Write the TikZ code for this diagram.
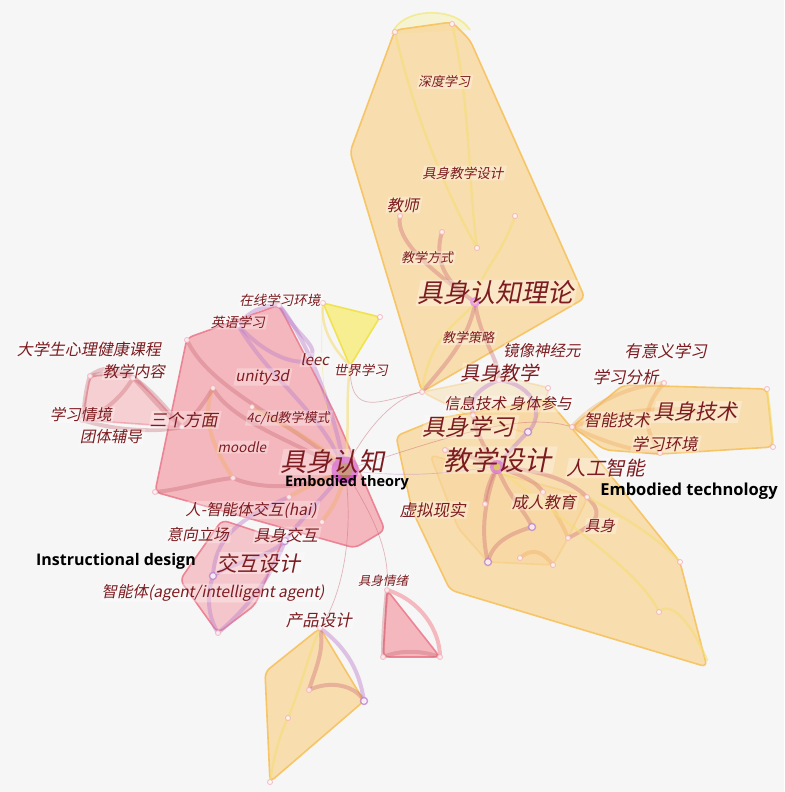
\documentclass[tikz,border=0pt]{standalone}
\usepackage{fontspec}
\newfontfamily\cjk{Noto Sans CJK SC}
\newfontfamily\eng{Open Sans}
\newcommand\fsz[1]{\fontsize{#1}{#1}\selectfont}
\definecolor{bg}{RGB}{246,246,246}
\definecolor{labred}{RGB}{125,28,32}
\definecolor{ofill}{RGB}{250,212,148}
\definecolor{oline}{RGB}{246,194,92}
\definecolor{pfill}{RGB}{244,160,168}
\definecolor{pline}{RGB}{236,124,142}
\definecolor{yfill}{RGB}{247,236,110}
\definecolor{yline}{RGB}{240,226,70}
\definecolor{ered}{RGB}{200,100,112}
\definecolor{epur}{RGB}{190,130,205}
\definecolor{eorg}{RGB}{240,175,100}
\definecolor{eyel}{RGB}{245,222,120}
\definecolor{mag}{RGB}{205,60,200}
\definecolor{core}{RGB}{175,115,60}
\tikzset{
  ocl/.style={fill=ofill, fill opacity=0.72, draw=oline, draw opacity=0.9, line width=1.6pt, rounded corners=6pt, line join=round},
  pcl/.style={fill=pfill, fill opacity=0.72, draw=pline, draw opacity=0.9, line width=1.6pt, rounded corners=6pt, line join=round},
  ycl/.style={fill=yfill, fill opacity=0.75, draw=yline, draw opacity=0.9, line width=1.6pt, rounded corners=4pt, line join=round},
  er/.style={draw=ered, line width=4pt, draw opacity=0.35, line cap=round},
  ep/.style={draw=epur, line width=4pt, draw opacity=0.45, line cap=round},
  eo/.style={draw=eorg, line width=4pt, draw opacity=0.4, line cap=round},
  ey/.style={draw=eyel, line width=2.5pt, draw opacity=0.6, line cap=round},
  thin/.style={draw=ered, line width=0.7pt, draw opacity=0.45},
  nd/.style={circle, draw=pline!60, fill=white, fill opacity=0.8, draw opacity=0.8, inner sep=0pt, minimum size=5pt, line width=0.9pt},
  ndp/.style={nd, draw=epur, minimum size=7pt, line width=1.4pt},
  lbl/.style={text=labred, inner sep=1pt, fill=white, fill opacity=0.3, text opacity=1, xslant=0.2},
  cn/.style={text=black, inner sep=0pt, font=\eng\bfseries\fsz{16}}
}
\begin{document}
\begin{tikzpicture}[x=1pt,y=-1pt]
\useasboundingbox (0,0) rectangle (784,792);
\fill[bg] (0,0) rectangle (784,792);

% ---- coordinates ----
\coordinate (t1) at (395,32);  \coordinate (t2) at (452,24);
\coordinate (t3) at (515,216); \coordinate (t4) at (442,232);
\coordinate (t5) at (477,248); \coordinate (t6) at (475,302);
\coordinate (t7) at (422,392); \coordinate (t8) at (400,216);
\coordinate (km) at (345,470);
\coordinate (k1) at (187,340); \coordinate (k2) at (238,325);
\coordinate (k3) at (279,305); \coordinate (k4) at (213,388);
\coordinate (k5) at (252,407); \coordinate (k7) at (233,478);
\coordinate (k8) at (155,492); \coordinate (k9) at (289,497);
\coordinate (k10) at (322,522); \coordinate (k11) at (285,541);
\coordinate (k12) at (213,576); \coordinate (k13) at (218,633);
\coordinate (k14) at (310,360);
\coordinate (s1) at (90,376);  \coordinate (s2) at (133,378);
\coordinate (s3) at (82,420);  \coordinate (s4) at (182,427);
\coordinate (y1) at (323,303); \coordinate (y2) at (380,317);
\coordinate (y3) at (350,366);
\coordinate (bm) at (497,467); \coordinate (b1) at (528,432);
\coordinate (b2) at (499,380); \coordinate (b3) at (473,415);
\coordinate (b4) at (543,492); \coordinate (b5) at (587,497);
\coordinate (b6) at (485,504); \coordinate (b7) at (532,527);
\coordinate (b8) at (488,562); \coordinate (b9) at (520,558);
\coordinate (b10) at (553,565); \coordinate (b11) at (568,538);
\coordinate (b12) at (659,612); \coordinate (b13) at (680,562);
\coordinate (b14) at (548,388); \coordinate (b15) at (445,450);
\coordinate (r1) at (572,427); \coordinate (r2) at (664,383);
\coordinate (r3) at (660,453); \coordinate (r4) at (767,389);
\coordinate (r5) at (773,447); \coordinate (r6) at (700,412);
\coordinate (p1) at (320,628); \coordinate (p2) at (309,690);
\coordinate (p3) at (364,701); \coordinate (p4) at (288,718);
\coordinate (p5) at (270,782);
\coordinate (e1) at (387,590); \coordinate (e2) at (383,657);
\coordinate (e3) at (440,657);

% ---- cluster hulls ----
\draw[ycl, fill opacity=0.25, draw opacity=0.5] (392,34) .. controls (400,8) and (455,5) .. (470,30);
\path[ocl] (395,30) -- (452,22) -- (470,40) -- (585,298) -- (422,392) -- (350,152) -- cycle;
\path[ocl] (396,436) -- (440,418) -- (548,400) -- (592,452) -- (680,562) -- (707,667) -- (450,590) -- (412,510) -- cycle;
\path[ocl, fill opacity=0.35, draw opacity=0.35] (430,455) -- (588,497) -- (568,538) -- (553,565) -- (488,562) -- (458,528) -- cycle;
\path[ocl, fill opacity=0.35, draw opacity=0.35] (422,392) -- (500,376) -- (550,388) -- (530,434) -- (473,418) -- cycle;
\path[ocl] (572,427) -- (623,385) -- (767,389) -- (773,447) -- (660,454) -- (605,450) -- cycle;
\path[ocl] (320,628) -- (364,701) -- (270,782) -- (265,672) -- cycle;
\path[pcl] (187,338) -- (279,305) -- (333,410) -- (385,530) -- (355,548) -- (155,492) -- cycle;
\path[pcl, fill opacity=0.45, draw opacity=0.5] (90,376) -- (133,374) -- (182,427) -- (82,420) -- cycle;
\path[pcl, fill opacity=0.55] (222,520) -- (283,540) -- (255,605) -- (218,633) -- (180,580) -- cycle;
\path[pcl] (387,590) -- (440,657) -- (383,657) -- cycle;
\path[ycl] (323,303) -- (380,317) -- (350,366) -- cycle;

% ---- links ----
% top cluster
\draw[ey] (t2) .. controls (470,100) and (468,180) .. (t5);
\draw[ey] (t1) .. controls (415,120) and (450,200) .. (t5);
\draw[ey] (t3) .. controls (500,260) and (480,270) .. (t6);
\draw[er] (t6) .. controls (440,280) and (435,255) .. (t4);
\draw[er] (t6) .. controls (430,270) and (395,240) .. (t8);
\draw[er] (t6) .. controls (470,340) and (440,370) .. (t7);
\draw[er] (t6) .. controls (480,340) and (500,360) .. (b2);
\draw[ey] (t7) .. controls (430,330) and (465,320) .. (t6);
% pink cluster
\draw[er] (km) .. controls (290,440) and (230,420) .. (k4);
\draw[er] (km) .. controls (290,420) and (210,390) .. (k1);
\draw[eo] (km) .. controls (320,440) and (270,420) .. (k5);
\draw[eo] (k4) .. controls (200,420) and (215,450) .. (k7);
\draw[er] (km) .. controls (310,490) and (260,490) .. (k7);
\draw[er] (k7) .. controls (210,480) and (180,490) .. (k8);
\draw[ep] (km) .. controls (330,390) and (300,330) .. (k3);
\draw[ep] (k2) .. controls (270,380) and (320,410) .. (km);
\draw[ep] (k2) .. controls (250,310) and (265,305) .. (k3);
\draw[ep] (k2) .. controls (270,360) and (300,365) .. (k14);
\draw[ep] (k3) .. controls (300,340) and (320,345) .. (k14);
\draw[er] (k4) .. controls (200,410) and (190,420) .. (s4);
\draw[er] (s1) .. controls (120,350) and (160,400) .. (s4);
\draw[er] (s2) .. controls (120,400) and (100,415) .. (s3);
\draw[er] (s1) .. controls (85,390) and (85,405) .. (s3);
\draw[er] (s1) .. controls (105,372) and (120,372) .. (s2);
\draw[er] (s3) .. controls (120,432) and (160,432) .. (s4);
\draw[er] (s2) .. controls (150,395) and (160,410) .. (s4);
\draw[eo] (km) .. controls (320,480) and (300,490) .. (k9);
\draw[eo] (km) .. controls (340,500) and (330,510) .. (k10);
\draw[ep] (k12) .. controls (235,560) and (265,560) .. (k11);
\draw[ep] (k11) .. controls (300,520) and (330,490) .. (km);
\draw[ep] (k12) .. controls (205,600) and (210,620) .. (k13);
\draw[ep] (k13) .. controls (245,610) and (270,580) .. (k11);
\draw[ep] (k12) .. controls (215,540) and (235,520) .. (k9);
% yellow triangle
\draw[ey] (y3) .. controls (345,410) and (350,440) .. (km);
\draw[ey] (y1) .. controls (320,330) and (335,350) .. (y3);
% lower right
\draw[er] (bm) .. controls (510,500) and (525,510) .. (b7);
\draw[er] (b7) .. controls (505,535) and (492,545) .. (b8);
\draw[er] (bm) .. controls (485,500) and (480,530) .. (b8);
\draw[er] (bm) .. controls (520,475) and (535,480) .. (b4);
\draw[er] (bm) .. controls (540,470) and (570,480) .. (b5);
\draw[ep] (bm) .. controls (510,450) and (520,440) .. (b1);
\draw[ep] (b2) .. controls (535,385) and (545,415) .. (b1);
\draw[ep] (b2) .. controls (475,390) and (470,400) .. (b3);
\draw[er] (bm) .. controls (485,450) and (475,430) .. (b3);
\draw[er] (bm) .. controls (490,480) and (486,490) .. (b6);
\draw[er] (bm) .. controls (470,455) and (455,452) .. (b15);
\draw[eo] (b4) .. controls (560,520) and (565,530) .. (b11);
\draw[eo] (b9) .. controls (535,545) and (545,555) .. (b10);
\draw[er] (b5) .. controls (600,510) and (605,520) .. (b11);
\draw[ey] (bm) .. controls (560,520) and (640,570) .. (b12);
\draw[ey] (b12) .. controls (670,600) and (690,620) .. (707,660);
\draw[ey] (b5) .. controls (630,520) and (660,540) .. (b13);
% right cluster
\draw[eo] (r1) .. controls (600,395) and (640,385) .. (r2);
\draw[eo] (r1) .. controls (610,445) and (640,452) .. (r3);
\draw[eo] (r2) .. controls (640,410) and (645,430) .. (r3);
\draw[eo] (r1) .. controls (620,410) and (670,405) .. (r6);
\draw[ey] (r4) .. controls (770,410) and (772,430) .. (r5);
% bottom cluster
\draw[er] (p1) .. controls (325,650) and (315,670) .. (p2);
\draw[er] (p2) .. controls (330,680) and (355,685) .. (p3);
\draw[ep] (p1) .. controls (350,650) and (360,675) .. (p3);
\draw[ey] (p5) .. controls (275,750) and (280,735) .. (p4);
\draw[ey] (p4) .. controls (300,690) and (310,650) .. (p1);
% emotion triangle
\draw[er, draw=pfill, draw opacity=0.7] (e1) .. controls (420,600) and (440,630) .. (e3);
\draw[er] (e2) .. controls (400,650) and (420,650) .. (e3);
\draw[er] (e1) .. controls (385,610) and (383,630) .. (e2);
% long thin links
\draw[thin] (km) .. controls (375,520) and (390,550) .. (e1);
\draw[thin] (km) .. controls (355,540) and (340,600) .. (p1);
\draw[thin] (km) .. controls (370,420) and (400,395) .. (t7);
\draw[thin] (km) .. controls (440,440) and (520,410) .. (r1);
\draw[thin] (t7) .. controls (380,400) and (350,420) .. (y3);
\draw[thin, draw=epur] (km) .. controls (420,480) and (460,470) .. (bm);
\draw[thin, draw=eyel] (km) .. controls (320,420) and (320,340) .. (y1);

% ---- small nodes ----
\foreach \c in {t1,t2,t3,t4,t5,t7,t8,k1,k2,k3,k4,k5,k7,k8,k9,k10,k14,s1,s2,s3,s4,y1,y2,y3,b2,b3,b4,b5,b6,b9,b10,b11,b12,b13,b14,b15,r1,r2,r3,r4,r5,r6,p1,p2,p4,p5,e1,e2,e3,k13}
  \node[nd] (n\c) at (\c) {};
\foreach \c in {b1,b7,b8,k11,k12,p3}
  \node[ndp] (n\c) at (\c) {};
% main nodes
\node[circle, fill=mag, fill opacity=0.8, minimum size=27pt, inner sep=0pt] (nkm) at (km) {};
\node[circle, fill=core, fill opacity=0.85, minimum size=15pt, inner sep=0pt] (nkmc) at (km) {};
\node[circle, fill=mag, fill opacity=0.75, minimum size=14pt, inner sep=0pt] (nbm) at (bm) {};
\node[circle, fill=core!60!yellow, minimum size=7pt, inner sep=0pt] (nbmc) at (bm) {};
\node[circle, fill=mag!70, minimum size=10pt, inner sep=0pt] (nt6) at (t6) {};
\node[circle, fill=pfill, minimum size=5pt, inner sep=0pt] (nt6c) at (t6) {};

% ---- labels ----
\node[lbl, font=\cjk\fsz{13}] (l1) at (445,82) {深度学习};
\node[lbl, font=\cjk\fsz{13.5}] (l2) at (464,173) {具身教学设计};
\node[lbl, font=\cjk\fsz{16}] (l3) at (404,205) {教师};
\node[lbl, font=\cjk\fsz{13}] (l4) at (428,258) {教学方式};
\node[lbl, font=\cjk\fsz{26}] (l5) at (497,293) {具身认知理论};
\node[lbl, font=\cjk\fsz{13}] (l6) at (469,338) {教学策略};
\node[lbl, font=\cjk\fsz{15.5}] (l7) at (543,351) {镜像神经元};
\node[lbl, font=\cjk\fsz{19.5}] (l8) at (501,373) {具身教学};
\node[lbl, font=\cjk\fsz{15.5}] (l9) at (509,404) {信息技术 身体参与};
\node[lbl, font=\cjk\fsz{23}] (l10) at (470,427) {具身学习};
\node[lbl, font=\cjk\fsz{27}] (l11) at (500,460) {教学设计};
\node[lbl, font=\cjk\fsz{19.5}] (l12) at (607,468) {人工智能};
\node[lbl, font=\cjk\fsz{16}] (l13) at (545,502) {成人教育};
\node[lbl, font=\cjk\fsz{15}] (l14) at (601,526) {具身};
\node[lbl, font=\cjk\fsz{16.5}] (l15) at (434,510) {虚拟现实};
\node[lbl, font=\cjk\fsz{16.5}] (l16) at (667,351) {有意义学习};
\node[lbl, font=\cjk\fsz{16.5}] (l17) at (627,377) {学习分析};
\node[lbl, font=\cjk\fsz{16.5}] (l18) at (618,420) {智能技术};
\node[lbl, font=\cjk\fsz{21}] (l19) at (697,412) {具身技术};
\node[lbl, font=\cjk\fsz{16.5}] (l20) at (666,444) {学习环境};
\node[lbl, font=\cjk\fsz{26}] (l21) at (334,462) {具身认知};
\node[lbl, font=\cjk\fsz{13.5}] (l22) at (281,300) {在线学习环境};
\node[lbl, font=\cjk\fsz{13.5}] (l23) at (239,322) {英语学习};
\node[lbl, font=\cjk\fsz{15}] (l24) at (316,360) {leec};
\node[lbl, font=\cjk\fsz{15}] (l25) at (263,377) {unity3d};
\node[lbl, font=\cjk\fsz{13.5}] (l26) at (362,370) {世界学习};
\node[lbl, font=\cjk\fsz{13}] (l27) at (289,418) {4c/id教学模式};
\node[lbl, font=\cjk\fsz{17}] (l28) at (185,420) {三个方面};
\node[lbl, font=\cjk\fsz{13.5}] (l29) at (243,447) {moodle};
\node[lbl, font=\cjk\fsz{16}] (l30) at (90,349) {大学生心理健康课程};
\node[lbl, font=\cjk\fsz{15.5}] (l31) at (135,372) {教学内容};
\node[lbl, font=\cjk\fsz{15.5}] (l32) at (82,415) {学习情境};
\node[lbl, font=\cjk\fsz{15.5}] (l33) at (112,437) {团体辅导};
\node[lbl, font=\cjk\fsz{15.5}] (l34) at (252,510) {人-智能体交互(hai)};
\node[lbl, font=\cjk\fsz{15.5}] (l35) at (199,535) {意向立场};
\node[lbl, font=\cjk\fsz{16}] (l36) at (287,535) {具身交互};
\node[lbl, font=\cjk\fsz{21}] (l37) at (260,563) {交互设计};
\node[lbl, font=\cjk\fsz{15.5}] (l38) at (214,593) {智能体(agent/intelligent agent)};
\node[lbl, font=\cjk\fsz{16.5}] (l39) at (320,620) {产品设计};
\node[lbl, font=\cjk\fsz{12.5}] (l40) at (384,581) {具身情绪};
\node[cn, font=\eng\bfseries\fsz{14.5}] (c1) at (347,483) {Embodied theory};
\node[cn, font=\eng\bfseries\fsz{16.5}] (c2) at (689,491) {Embodied technology};
\node[cn] (c3) at (116,561) {Instructional design};
\end{tikzpicture}
\end{document}
